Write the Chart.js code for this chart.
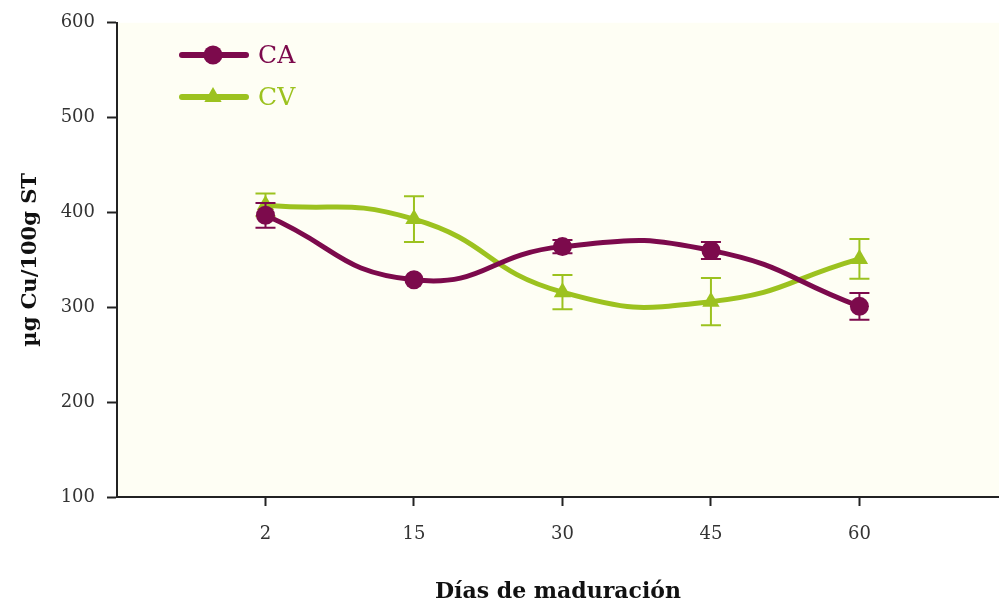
<!DOCTYPE html>
<html><head><meta charset="utf-8">
<script src="https://cdn.jsdelivr.net/npm/chart.js@4.4.0/dist/chart.umd.min.js"></script>
<style>html,body{margin:0;padding:0;background:#fff}</style>
</head><body>
<canvas id="c" width="999" height="607"></canvas>
<script>
// Copper content during ripening, two cheese groups (mean ± error)
const days = ['2', '15', '30', '45', '60'];
const caMean = [397, 329, 364, 360, 301];
const caErr = [13, 0, 7, 9, 14];
const cvMean = [408, 393, 316, 306, 351];
const cvErr = [12, 24, 18, 25, 21];
const yTicks = [100, 200, 300, 400, 500, 600];

const CA_COLOR = '#7c0a4c';
const CV_COLOR = '#9cc21f';
const SERIF = '"DejaVu Serif", "Liberation Serif", serif';

const toPoints = (arr, err) => arr.map((v, i) => ({ x: i, y: v, err: err[i] }));

const plotBackground = {
  id: 'plotBackground',
  beforeDraw(chart) {
    const { ctx, chartArea: a } = chart;
    ctx.save();
    ctx.fillStyle = '#fefef4';
    ctx.fillRect(a.left, a.top, a.right - a.left, a.bottom - a.top);
    ctx.restore();
  }
};

const errorBars = {
  id: 'errorBars',
  beforeDatasetDraw(chart, args) {
    const ds = chart.data.datasets[args.index];
    const xs = chart.scales.x, ys = chart.scales.y;
    const ctx = chart.ctx;
    ctx.save();
    ctx.strokeStyle = ds.borderColor;
    ctx.lineWidth = 2;
    ds.data.forEach(p => {
      if (!p.err) return;
      const x = xs.getPixelForValue(p.x);
      const yt = ys.getPixelForValue(p.y + p.err);
      const yb = ys.getPixelForValue(p.y - p.err);
      ctx.beginPath();
      ctx.moveTo(x, yt); ctx.lineTo(x, yb);
      ctx.moveTo(x - 10, yt); ctx.lineTo(x + 10, yt);
      ctx.moveTo(x - 10, yb); ctx.lineTo(x + 10, yb);
      ctx.stroke();
    });
    ctx.restore();
  }
};

const lineLegend = {
  id: 'lineLegend',
  afterDraw(chart) {
    const ctx = chart.ctx;
    chart.data.datasets.forEach((ds, i) => {
      const y = 55 + i * 42;
      ctx.save();
      ctx.strokeStyle = ds.borderColor;
      ctx.lineWidth = 6;
      ctx.lineCap = 'round';
      ctx.beginPath();
      ctx.moveTo(182, y); ctx.lineTo(246, y);
      ctx.stroke();
      ctx.fillStyle = ds.borderColor;
      Chart.helpers.drawPoint(ctx, { pointStyle: ds.pointStyle, radius: ds.pointRadius, borderWidth: 0 }, 213, y);
      ctx.fillStyle = ds.borderColor;
      ctx.font = '25px ' + SERIF;
      ctx.textBaseline = 'middle';
      ctx.fillText(ds.label, 258, y + 1);
      ctx.restore();
    });
  }
};

new Chart(document.getElementById('c'), {
  type: 'line',
  data: {
    datasets: [
      {
        label: 'CA', data: toPoints(caMean, caErr),
        borderColor: CA_COLOR, backgroundColor: CA_COLOR,
        borderWidth: 5, tension: 0.5, pointStyle: 'circle', pointRadius: 9.5,
        pointBorderWidth: 0
      },
      {
        label: 'CV', data: toPoints(cvMean, cvErr),
        borderColor: CV_COLOR, backgroundColor: CV_COLOR,
        borderWidth: 5, tension: 0.5, pointStyle: 'triangle', pointRadius: 10,
        pointBorderWidth: 0
      }
    ]
  },
  options: {
    responsive: false,
    animation: false,
    devicePixelRatio: 1,
    layout: { autoPadding: false, padding: { top: 18, right: 0, left: 0, bottom: 0 } },
    plugins: { legend: { display: false }, tooltip: { enabled: false } },
    scales: {
      x: {
        type: 'linear', min: -1, max: 4.94,
        afterBuildTicks: s => { s.ticks = days.map((d, i) => ({ value: i })); },
        afterFit: s => { s.height = 110; },
        ticks: {
          callback: v => days[v] ?? '',
          font: { family: SERIF, size: 18 }, color: '#333', padding: 18
        },
        grid: { drawOnChartArea: false, tickLength: 9, tickWidth: 2, color: '#222' },
        border: { color: '#222', width: 2 },
        title: {
          display: true, text: 'Días de maduración', color: '#111',
          font: { family: SERIF, size: 22, weight: 'bold' }, padding: { top: 0, bottom: 2 }
        }
      },
      y: {
        min: 100, max: 600,
        afterBuildTicks: s => { s.ticks = yTicks.map(v => ({ value: v })); },
        afterFit: s => { s.width = 117; },
        ticks: { font: { family: SERIF, size: 18 }, color: '#333', padding: 12 },
        grid: { drawOnChartArea: false, tickLength: 10, tickWidth: 2, color: '#222' },
        border: { color: '#222', width: 2 },
        title: {
          display: true, text: 'µg Cu/100g ST', color: '#111',
          font: { family: SERIF, size: 21, weight: 'bold' }, padding: { top: 18, bottom: 0 }
        }
      }
    }
  },
  plugins: [plotBackground, errorBars, lineLegend]
});
</script>
</body></html>
